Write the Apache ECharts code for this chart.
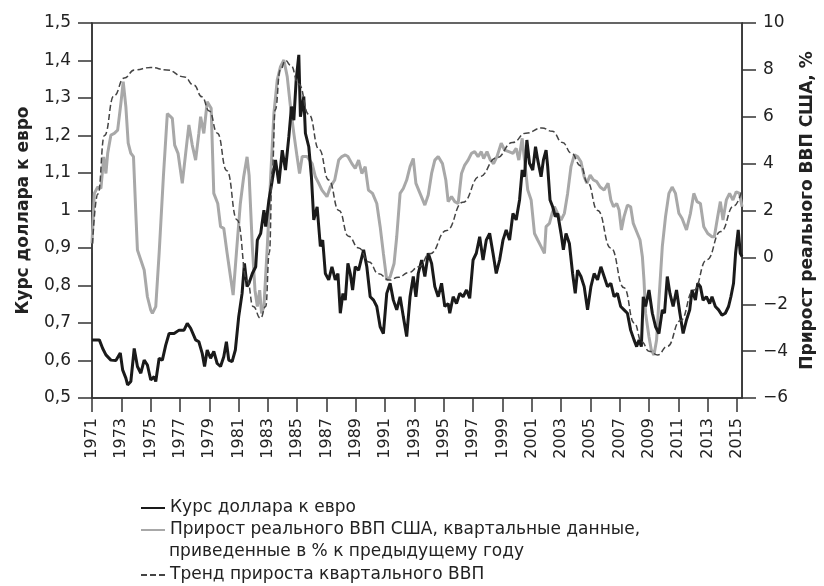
<!DOCTYPE html>
<html>
<head>
<meta charset="utf-8">
<script src="https://cdn.jsdelivr.net/npm/echarts@6/dist/echarts.min.js"></script>
<style>
html, body { margin: 0; padding: 0; background: #fff; }
#chart { width: 824px; height: 586px; }
</style>
</head>
<body>
<div id="chart"></div>
<script>
// odd years shown on the x axis
const yearTicks = [1971, 1973, 1975, 1977, 1979, 1981, 1983, 1985, 1987, 1989, 1991, 1993,
  1995, 1997, 1999, 2001, 2003, 2005, 2007, 2009, 2011, 2013, 2015]

const rateName = 'Курс доллара к евро'
const gdpName = 'Прирост реального ВВП США, квартальные данные, приведенные в % к предыдущему году'
const trendName = 'Тренд прироста квартального ВВП'

// [year, rate] - left axis
const rateData = [
  [1971.00, 0.655], [1971.50, 0.655], [1971.73, 0.632], [1971.95, 0.615], [1972.29, 0.601], [1972.63, 0.600],
  [1972.93, 0.620], [1973.09, 0.575], [1973.31, 0.553], [1973.43, 0.535], [1973.65, 0.544], [1973.88, 0.632],
  [1974.10, 0.584], [1974.33, 0.566], [1974.56, 0.601], [1974.78, 0.588], [1975.01, 0.548], [1975.24, 0.557],
  [1975.35, 0.544], [1975.58, 0.606], [1975.80, 0.601], [1976.03, 0.641], [1976.26, 0.672], [1976.60, 0.672],
  [1976.94, 0.681], [1977.28, 0.681], [1977.50, 0.699], [1977.73, 0.686], [1978.07, 0.655], [1978.29, 0.650],
  [1978.52, 0.619], [1978.68, 0.584], [1978.86, 0.628], [1979.09, 0.606], [1979.31, 0.624], [1979.54, 0.592],
  [1979.77, 0.584], [1979.99, 0.610], [1980.17, 0.650], [1980.33, 0.601], [1980.56, 0.597], [1980.78, 0.628],
  [1981.01, 0.717], [1981.24, 0.779], [1981.40, 0.859], [1981.58, 0.797], [1981.71, 0.806], [1981.94, 0.832],
  [1982.17, 0.850], [1982.28, 0.921], [1982.51, 0.939], [1982.73, 1.001], [1982.85, 0.957], [1983.07, 1.028],
  [1983.30, 1.081], [1983.52, 1.135], [1983.75, 1.072], [1983.98, 1.161], [1984.20, 1.108], [1984.43, 1.197],
  [1984.61, 1.277], [1984.77, 1.241], [1984.93, 1.348], [1985.11, 1.415], [1985.22, 1.250], [1985.45, 1.304],
  [1985.56, 1.206], [1985.79, 1.170], [1985.97, 1.090], [1986.13, 0.975], [1986.36, 1.010], [1986.58, 0.904],
  [1986.74, 0.921], [1986.92, 0.832], [1987.15, 0.815], [1987.37, 0.850], [1987.60, 0.815], [1987.78, 0.832],
  [1987.94, 0.726], [1988.12, 0.779], [1988.28, 0.761], [1988.46, 0.859], [1988.62, 0.832], [1988.78, 0.788],
  [1988.96, 0.850], [1989.19, 0.841], [1989.53, 0.895], [1989.75, 0.850], [1989.98, 0.770], [1990.21, 0.761],
  [1990.43, 0.744], [1990.66, 0.690], [1990.88, 0.672], [1991.11, 0.779], [1991.34, 0.806], [1991.56, 0.761],
  [1991.79, 0.735], [1992.02, 0.770], [1992.24, 0.717], [1992.47, 0.664], [1992.70, 0.770], [1992.92, 0.824],
  [1993.10, 0.770], [1993.26, 0.832], [1993.49, 0.868], [1993.71, 0.824], [1993.94, 0.886], [1994.17, 0.859],
  [1994.39, 0.797], [1994.62, 0.770], [1994.85, 0.806], [1995.07, 0.744], [1995.30, 0.752], [1995.41, 0.726],
  [1995.64, 0.770], [1995.87, 0.752], [1996.09, 0.779], [1996.32, 0.770], [1996.55, 0.788], [1996.77, 0.766],
  [1997.00, 0.868], [1997.22, 0.886], [1997.45, 0.930], [1997.68, 0.868], [1997.90, 0.921], [1998.13, 0.939],
  [1998.36, 0.886], [1998.58, 0.832], [1998.81, 0.868], [1999.04, 0.921], [1999.26, 0.948], [1999.49, 0.921],
  [1999.72, 0.992], [1999.94, 0.975], [2000.17, 1.028], [2000.35, 1.108], [2000.51, 1.090], [2000.67, 1.188],
  [2000.85, 1.126], [2001.07, 1.108], [2001.26, 1.170], [2001.41, 1.135], [2001.64, 1.090], [2001.80, 1.135],
  [2001.98, 1.161], [2002.09, 1.117], [2002.25, 1.028], [2002.43, 1.010], [2002.61, 0.984], [2002.77, 0.992],
  [2003.00, 0.939], [2003.16, 0.895], [2003.34, 0.939], [2003.57, 0.912], [2003.79, 0.832], [2003.97, 0.779],
  [2004.13, 0.841], [2004.36, 0.824], [2004.58, 0.797], [2004.81, 0.735], [2005.04, 0.797], [2005.26, 0.832],
  [2005.49, 0.815], [2005.72, 0.850], [2005.94, 0.824], [2006.17, 0.797], [2006.40, 0.806], [2006.62, 0.770],
  [2006.85, 0.779], [2007.07, 0.744], [2007.30, 0.735], [2007.53, 0.726], [2007.75, 0.681], [2007.98, 0.655],
  [2008.16, 0.637], [2008.32, 0.655], [2008.48, 0.637], [2008.61, 0.770], [2008.77, 0.744], [2009.00, 0.788],
  [2009.23, 0.726], [2009.45, 0.690], [2009.68, 0.672], [2009.91, 0.735], [2010.06, 0.726], [2010.25, 0.824],
  [2010.43, 0.779], [2010.65, 0.744], [2010.88, 0.788], [2011.11, 0.726], [2011.33, 0.672], [2011.56, 0.708],
  [2011.78, 0.735], [2011.94, 0.788], [2012.17, 0.761], [2012.33, 0.806], [2012.51, 0.797], [2012.69, 0.761],
  [2012.92, 0.770], [2013.14, 0.752], [2013.30, 0.770], [2013.53, 0.744], [2013.75, 0.735], [2013.98, 0.721],
  [2014.21, 0.726], [2014.43, 0.744], [2014.59, 0.770], [2014.77, 0.806], [2014.91, 0.886], [2015.09, 0.948],
  [2015.23, 0.886], [2015.35, 0.877]
]

// [year, %] - right axis, quarterly GDP growth
const gdpData = [
  [1971.00, 0.6], [1971.16, 2.73], [1971.39, 3.0], [1971.61, 2.94], [1971.80, 4.29], [1971.95, 3.58],
  [1972.07, 4.44], [1972.29, 5.22], [1972.52, 5.29], [1972.75, 5.43], [1972.97, 6.57], [1973.13, 7.5],
  [1973.31, 6.43], [1973.47, 4.87], [1973.65, 4.44], [1973.83, 4.3], [1973.99, 1.88], [1974.10, 0.31],
  [1974.33, -0.11], [1974.56, -0.54], [1974.78, -1.68], [1975.01, -2.25], [1975.12, -2.39], [1975.35, -2.1],
  [1975.58, 0.17], [1975.87, 3.44], [1976.14, 6.14], [1976.48, 5.93], [1976.64, 4.79], [1976.87, 4.44],
  [1977.16, 3.16], [1977.39, 4.44], [1977.61, 5.65], [1977.84, 4.79], [1978.07, 4.15], [1978.29, 5.29],
  [1978.41, 6.0], [1978.63, 5.29], [1978.86, 6.64], [1979.13, 6.36], [1979.31, 2.73], [1979.58, 2.3],
  [1979.77, 1.31], [1979.99, 1.24], [1980.22, 0.17], [1980.45, -0.83], [1980.63, -1.61], [1980.85, 0.17],
  [1981.12, 2.3], [1981.35, 3.44], [1981.58, 4.29], [1981.72, 3.5], [1981.94, 0.46], [1982.12, -1.4],
  [1982.28, -2.1], [1982.44, -1.4], [1982.57, -2.39], [1982.73, -2.1], [1982.96, 0.46], [1983.19, 3.44],
  [1983.41, 6.14], [1983.64, 7.57], [1983.86, 8.14], [1984.09, 8.42], [1984.32, 7.71], [1984.54, 6.43],
  [1984.77, 5.29], [1984.99, 4.3], [1985.16, 3.58], [1985.34, 4.3], [1985.68, 4.3], [1986.02, 4.0],
  [1986.24, 3.44], [1986.47, 3.16], [1986.69, 2.87], [1987.03, 2.59], [1987.26, 3.0], [1987.56, 3.3],
  [1987.83, 4.15], [1988.05, 4.3], [1988.28, 4.37], [1988.46, 4.3], [1988.73, 4.0], [1988.96, 3.8],
  [1989.19, 4.15], [1989.41, 3.58], [1989.64, 3.87], [1989.86, 2.87], [1990.14, 2.73], [1990.43, 2.3],
  [1990.66, 1.31], [1990.88, 0.17], [1991.11, -0.97], [1991.34, -0.83], [1991.61, -0.26], [1991.79, 0.88],
  [1992.02, 2.73], [1992.24, 2.94], [1992.47, 3.3], [1992.70, 3.87], [1992.92, 4.22], [1993.10, 3.16],
  [1993.38, 2.73], [1993.71, 2.23], [1993.94, 2.66], [1994.17, 3.58], [1994.39, 4.15], [1994.62, 4.3],
  [1994.91, 4.0], [1995.14, 3.3], [1995.30, 2.38], [1995.53, 2.59], [1995.75, 2.38], [1995.98, 2.3],
  [1996.21, 3.58], [1996.43, 3.94], [1996.66, 4.15], [1996.89, 4.44], [1997.11, 4.51], [1997.34, 4.3],
  [1997.56, 4.51], [1997.72, 4.22], [1997.95, 4.51], [1998.18, 4.15], [1998.40, 4.0], [1998.63, 4.3],
  [1998.92, 4.87], [1999.15, 4.58], [1999.44, 4.51], [1999.72, 4.44], [1999.94, 4.65], [2000.12, 4.15],
  [2000.35, 5.08], [2000.51, 4.15], [2000.73, 2.87], [2000.96, 2.45], [2001.19, 1.02], [2001.41, 0.74],
  [2001.64, 0.46], [2001.87, 0.17], [2001.98, 1.31], [2002.21, 1.45], [2002.39, 1.88], [2002.55, 2.16],
  [2002.77, 1.88], [2003.00, 1.59], [2003.23, 1.88], [2003.45, 2.73], [2003.68, 3.87], [2003.91, 4.37],
  [2004.13, 4.3], [2004.36, 4.08], [2004.58, 3.44], [2004.76, 3.16], [2004.99, 3.51], [2005.22, 3.3],
  [2005.44, 3.23], [2005.67, 3.0], [2005.94, 2.87], [2006.21, 3.16], [2006.40, 2.45], [2006.58, 2.16],
  [2006.80, 2.3], [2006.96, 2.02], [2007.12, 1.17], [2007.30, 1.74], [2007.53, 2.23], [2007.75, 2.16],
  [2007.93, 1.45], [2008.21, 1.02], [2008.39, 0.74], [2008.55, 0.03], [2008.66, -0.97], [2008.77, -2.39],
  [2009.00, -3.39], [2009.16, -3.95], [2009.34, -4.17], [2009.52, -3.53], [2009.68, -1.82], [2009.91, 0.46],
  [2010.13, 1.74], [2010.36, 2.73], [2010.58, 3.0], [2010.81, 2.73], [2011.04, 1.88], [2011.26, 1.66],
  [2011.56, 1.17], [2011.83, 1.88], [2012.06, 2.73], [2012.28, 2.38], [2012.51, 2.3], [2012.74, 1.31],
  [2013.01, 1.02], [2013.30, 0.88], [2013.46, 0.88], [2013.69, 1.74], [2013.87, 2.38], [2014.05, 1.59],
  [2014.28, 2.45], [2014.50, 2.73], [2014.73, 2.45], [2014.95, 2.8], [2015.18, 2.73], [2015.35, 2.16]
]

// [year, %] - right axis, smooth trend
const trendData = [
  [1971.0, 0.2], [1971.4, 2.7], [1971.85, 5.2], [1972.5, 6.9], [1973.2, 7.65], [1973.9, 8.0],
  [1975.0, 8.1], [1976.1, 8.0], [1977.3, 7.7], [1977.95, 7.35], [1978.5, 6.85], [1979.0, 6.25],
  [1979.55, 5.3], [1980.2, 3.7], [1980.9, 1.6], [1981.6, -1.0], [1982.0, -2.1], [1982.5, -2.6],
  [1982.85, -2.1], [1983.1, 0.2], [1983.3, 3.7], [1983.5, 6.3], [1983.85, 8.0], [1984.2, 8.4],
  [1984.55, 8.2], [1985.1, 7.4], [1985.8, 6.1], [1986.5, 4.6], [1987.15, 3.3], [1987.85, 2.0],
  [1988.5, 0.9], [1989.2, 0.4], [1989.9, -0.2], [1990.55, -0.7], [1991.3, -0.97], [1991.9, -0.85],
  [1992.6, -0.65], [1993.3, -0.4], [1994.05, 0.15], [1995.2, 1.15], [1996.3, 2.35], [1997.45, 3.45],
  [1998.6, 4.25], [1999.7, 4.9], [2000.6, 5.3], [2001.7, 5.52], [2002.4, 5.38], [2003.1, 4.9],
  [2003.7, 4.45], [2004.35, 3.9], [2004.8, 3.2], [2005.5, 2.0], [2006.4, 0.4], [2007.3, -1.3],
  [2008.0, -2.8], [2008.5, -3.6], [2009.0, -4.0], [2009.6, -4.16], [2010.25, -3.8], [2011.15, -2.7],
  [2012.05, -1.4], [2012.95, -0.1], [2013.9, 1.1], [2014.8, 2.2], [2015.35, 2.9]
]

const chart = echarts.init(document.getElementById('chart'))

const axisColor = '#333'
const textColor = '#222'

const legendBase = {
  orient: 'vertical', left: 140, padding: 0,
  itemWidth: 24, itemHeight: 14, itemGap: 0,
  itemStyle: { opacity: 0 },
  textStyle: { fontSize: 17, color: textColor, lineHeight: 22 }
}

chart.setOption({
  animation: false,
  backgroundColor: '#fff',
  textStyle: { fontFamily: 'DejaVu Sans' },
  grid: {
    left: 92, right: 79, top: 23, bottom: 188,
    show: true, borderColor: axisColor, borderWidth: 1.5, backgroundColor: 'transparent'
  },
  legend: [
    Object.assign({}, legendBase, {
      top: 497,
      data: [rateName, gdpName],
      formatter: (n) => n === gdpName ? 'Прирост реального ВВП США, квартальные данные,' : n
    }),
    Object.assign({}, legendBase, {
      top: 564,
      data: [trendName]
    })
  ],
  graphic: [
    {
      type: 'text', left: 169, top: 543,
      style: { text: 'приведенные в % к предыдущему году', font: '17px "DejaVu Sans"', fill: textColor }
    }
  ],
  xAxis: {
    type: 'value',
    min: 1971,
    max: 2015.35,
    splitLine: { show: false },
    axisLine: { onZero: false, lineStyle: { color: axisColor, width: 1.5 } },
    axisTick: { customValues: yearTicks, inside: false, length: 14, lineStyle: { color: axisColor, width: 1.5 } },
    axisLabel: {
      customValues: yearTicks, rotate: 90, margin: 20,
      fontSize: 16, color: textColor,
      formatter: (v) => String(v)
    }
  },
  yAxis: [
    {
      type: 'value', min: 0.5, max: 1.5, interval: 0.1,
      name: rateName, nameLocation: 'middle', nameGap: 60, nameRotate: 90,
      nameTextStyle: { fontSize: 17, fontWeight: 'bold', color: textColor },
      splitLine: { show: false },
      axisLine: { show: true, onZero: false, lineStyle: { color: axisColor, width: 1.5 } },
      axisTick: { show: true, inside: false, length: 14, lineStyle: { color: axisColor, width: 1.5 } },
      axisLabel: {
        margin: 21, fontSize: 17, color: textColor,
        formatter: (v) => Math.abs(v - 1) < 1e-9 ? '1' : v.toFixed(1).replace('.', ',')
      }
    },
    {
      type: 'value', min: -6, max: 10, interval: 2, position: 'right',
      name: 'Прирост реального ВВП США, %', nameLocation: 'middle', nameGap: 56, nameRotate: 90,
      nameTextStyle: { fontSize: 17, fontWeight: 'bold', color: textColor },
      splitLine: { show: false },
      axisLine: { show: true, onZero: false, lineStyle: { color: axisColor, width: 1.5 } },
      axisTick: { show: true, inside: false, length: 14, lineStyle: { color: axisColor, width: 1.5 } },
      axisLabel: {
        margin: 21, fontSize: 17, color: textColor,
        formatter: (v) => v < 0 ? '\u2212' + Math.abs(v) : String(v)
      }
    }
  ],
  series: [
    {
      name: gdpName, type: 'line', yAxisIndex: 1, data: gdpData,
      symbol: 'none', color: '#a8a8a8',
      lineStyle: { color: '#a8a8a8', width: 3 }
    },
    {
      name: rateName, type: 'line', yAxisIndex: 0, data: rateData,
      symbol: 'none', color: '#1a1a1a',
      lineStyle: { color: '#1a1a1a', width: 3 }
    },
    {
      name: trendName, type: 'line', yAxisIndex: 1, data: trendData,
      symbol: 'none', color: '#444', smooth: 0.5, smoothMonotone: 'x',
      lineStyle: { color: '#444', width: 1.5, type: [6, 3] }
    }
  ]
})
</script>
</body>
</html>
